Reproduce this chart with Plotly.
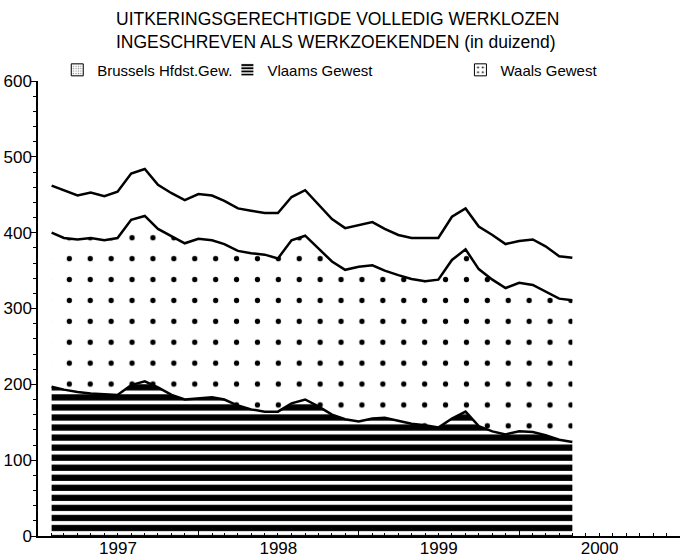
import plotly.graph_objects as go

# Monthly observations (thousands)
months = [
    "1997-02-01", "1997-03-01", "1997-04-01", "1997-05-01", "1997-06-01", "1997-07-01",
    "1997-08-01", "1997-09-01", "1997-10-01", "1997-11-01", "1997-12-01", "1998-01-01",
    "1998-02-01", "1998-03-01", "1998-04-01", "1998-05-01", "1998-06-01", "1998-07-01",
    "1998-08-01", "1998-09-01", "1998-10-01", "1998-11-01", "1998-12-01", "1999-01-01",
    "1999-02-01", "1999-03-01", "1999-04-01", "1999-05-01", "1999-06-01", "1999-07-01",
    "1999-08-01", "1999-09-01", "1999-10-01", "1999-11-01", "1999-12-01", "2000-01-01",
    "2000-02-01", "2000-03-01", "2000-04-01", "2000-05-01",
]
vlaams = [197, 193, 190, 188, 187, 186, 199, 204, 196, 186, 180, 181, 183, 180, 172, 167,
          164, 164, 175, 180, 171, 160, 154, 151, 155, 156, 152, 148, 146, 143, 155, 164,
          145, 138, 134, 138, 137, 133, 127, 124]
waals = [203, 200, 201, 205, 203, 207, 218, 218, 209, 209, 206, 211, 207, 205, 204, 206,
         207, 202, 215, 216, 208, 202, 197, 204, 202, 194, 192, 191, 190, 195, 209, 214,
         207, 200, 193, 196, 194, 189, 186, 187]
brussel = [62, 63, 58, 60, 58, 61, 61, 62, 58, 57, 57, 59, 59, 57, 56, 56,
           55, 60, 57, 60, 58, 56, 55, 55, 57, 55, 53, 54, 57, 55, 57, 54,
           56, 59, 58, 55, 60, 60, 56, 56]

year_starts = ["1997-01-01", "1998-01-01", "1999-01-01", "2000-01-01", "2001-01-01"]
year_mids = ["1997-07-02", "1998-07-02", "1999-07-02", "2000-07-02"]
year_labels = ["1997", "1998", "1999", "2000"]
y_ticks = [0, 100, 200, 300, 400, 500, 600]

FONT = "Liberation Sans, Arial, Helvetica, sans-serif"
LINE = dict(color="black", width=2.5)

fig = go.Figure()
# stacked areas (bottom to top)
fig.add_trace(go.Scatter(
    x=months, y=vlaams, name="Vlaams Gewest", stackgroup="one", mode="lines",
    line=LINE, fillcolor="white", showlegend=False,
    fillpattern=dict(shape="-", size=10.045, solidity=0.62, fgcolor="black",
                     bgcolor="white", fillmode="replace"),
))
fig.add_trace(go.Scatter(
    x=months, y=waals, name="Waals Gewest", stackgroup="one", mode="lines",
    line=LINE, fillcolor="white", showlegend=False,
    fillpattern=dict(shape=".", size=20.9, solidity=0.05, fgcolor="black",
                     bgcolor="white", fillmode="replace"),
))
fig.add_trace(go.Scatter(
    x=months, y=brussel, name="Brussels Hfdst.Gew.", stackgroup="one", mode="lines",
    line=LINE, fillcolor="white", showlegend=False,
))

# legend-only entries (patterned boxes), no data drawn
fig.add_trace(go.Bar(
    x=[None], y=[None], name="Brussels Hfdst.Gew.", legend="legend", xaxis="x2",
    marker=dict(color="white", line=dict(color="black", width=1),
                pattern=dict(shape=".", size=3, solidity=0.25, fgcolor="#8a8a8a",
                             bgcolor="white", fillmode="replace")),
))
fig.add_trace(go.Bar(
    x=[None], y=[None], name="Vlaams Gewest", legend="legend2", xaxis="x2",
    marker=dict(color="white", line=dict(color="black", width=0),
                pattern=dict(shape="-", size=4, solidity=0.6, fgcolor="black",
                             bgcolor="white", fillmode="replace")),
))
fig.add_trace(go.Bar(
    x=[None], y=[None], name="Waals Gewest", legend="legend3", xaxis="x2",
    marker=dict(color="white", line=dict(color="black", width=1),
                pattern=dict(shape=".", size=6, solidity=0.12, fgcolor="black",
                             bgcolor="white", fillmode="replace")),
))

legend_common = dict(orientation="h", yanchor="middle", xanchor="left",
                     bgcolor="rgba(0,0,0,0)", font=dict(size=15, family=FONT, color="black"))

fig.update_layout(
    width=683, height=560,
    margin=dict(l=38, r=3, t=81, b=24, autoexpand=False),
    paper_bgcolor="white", plot_bgcolor="white",
    font=dict(family=FONT, color="black"),
    showlegend=True,
    legend=dict(x=0.030, y=1.024, **legend_common),
    legend2=dict(x=0.295, y=1.024, **legend_common),
    legend3=dict(x=0.658, y=1.024, **legend_common),
    annotations=[dict(
        text="UITKERINGSGERECHTIGDE VOLLEDIG WERKLOZEN<br>INGESCHREVEN ALS WERKZOEKENDEN (in duizend)",
        font=dict(size=17.5, family=FONT, color="black"), align="left",
        x=(114 - 38) / 642, xref="paper", xanchor="left",
        y=(536 - 7) / 455, yref="paper", yanchor="top", showarrow=False,
    )],
    xaxis=dict(
        type="date", range=["1997-01-01", "2001-01-01"],
        tickvals=year_starts, showticklabels=False,
        ticks="inside", ticklen=7, tickwidth=1.3, tickcolor="black",
        showline=True, linewidth=1.5, linecolor="black",
        showgrid=False, zeroline=False,
        minor=dict(dtick="M1", tick0="1997-01-01", ticks="inside", ticklen=3,
                   tickwidth=1, tickcolor="black", showgrid=False),
    ),
    xaxis2=dict(
        type="date", range=["1997-01-01", "2001-01-01"], overlaying="x", anchor="y",
        side="bottom", tickvals=year_mids, ticktext=year_labels,
        ticks="", showline=False, showgrid=False, zeroline=False,
        tickfont=dict(size=17, family=FONT, color="black"),
    ),
    yaxis=dict(
        range=[0, 600], tickvals=y_ticks,
        ticks="outside", ticklen=5, tickwidth=1.3, tickcolor="black",
        showline=True, linewidth=1.5, linecolor="black",
        showgrid=False, zeroline=False, ticklabelstandoff=-4,
        tickfont=dict(size=17, family=FONT, color="black"),
        minor=dict(dtick=20, tick0=0, ticks="outside", ticklen=3, tickwidth=1,
                   tickcolor="black", showgrid=False),
    ),
)

fig.write_html("out.html", config={"displayModeBar": False},
               post_script="document.body.style.margin='0px';")
